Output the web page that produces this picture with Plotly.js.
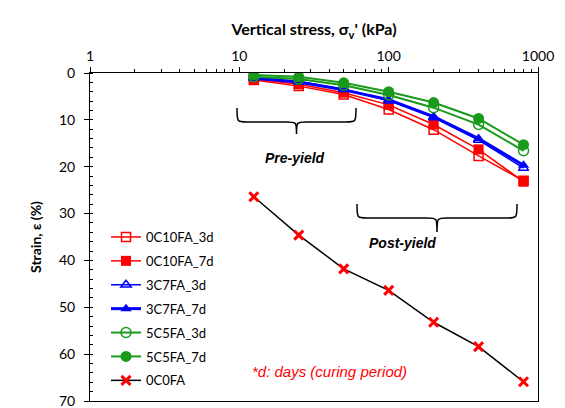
<!DOCTYPE html>
<html><head><meta charset="utf-8">
<script src="https://cdn.plot.ly/plotly-3.0.1.min.js"></script>
<style>body{margin:0;background:#fff}#c{width:565px;height:408px}</style>
</head><body><div id="c"></div>
<script>
// Data
var stress = [12.5, 25, 50, 100, 200, 400, 800];
var s_0C10FA_3d = [1.5, 2.8, 4.6, 7.8, 12.1, 17.7, 23.0];
var s_0C10FA_7d = [1.3, 2.4, 4.2, 6.8, 11.0, 16.3, 23.2];
var s_3C7FA_3d  = [1.0, 1.8, 3.4, 5.9, 9.5, 14.3, 20.3];
var s_3C7FA_7d  = [1.1, 1.9, 3.6, 5.7, 9.3, 14.0, 19.7];
var s_5C5FA_3d  = [0.8, 1.3, 2.6, 4.7, 7.4, 11.0, 16.6];
var s_5C5FA_7d  = [0.4, 0.8, 2.1, 4.0, 6.3, 9.7, 15.3];
var s_0C0FA     = [26.4, 34.6, 41.8, 46.4, 53.2, 58.4, 65.9];
var names = ['0C10FA_3d','0C10FA_7d','3C7FA_3d','3C7FA_7d','5C5FA_3d','5C5FA_7d','0C0FA'];
var yTicks = [0, 10, 20, 30, 40, 50, 60, 70];

var RED='#FF0000', BLUE='#0000FF', GREEN='#1A9A1A';
function tr(y, name, color, lw, sym, msize, mfill, mline, mlcolor){
  return {x: stress, y: y, name: name, type:'scatter', mode:'lines+markers',
    legendgroup: name,
    line:{color:color, width:lw},
    marker:{symbol:sym, size:msize, color:mfill, line:{width:mline, color:mlcolor||color}}};
}
var data = [
  tr(s_0C10FA_3d, names[0], RED, 1.5, 'square-open', 9, RED, 1.5, RED),
  tr(s_0C10FA_7d, names[1], RED, 1.5, 'square', 10, RED, 0, RED),
  tr(s_3C7FA_3d, names[2], BLUE, 1.5, 'triangle-up-open', 9, BLUE, 1.5, BLUE),
  tr(s_3C7FA_7d, names[3], BLUE, 3, 'triangle-up', 10, BLUE, 0, BLUE),
  tr(s_5C5FA_3d, names[4], GREEN, 2, 'circle-open', 10, GREEN, 1.5, GREEN),
  tr(s_5C5FA_7d, names[5], GREEN, 2, 'circle', 11, GREEN, 0, GREEN),
  tr(s_0C0FA, names[6], '#000000', 1.5, 'x-thin-open', 9, RED, 3, RED)
];

var L=90, R=538, T=73, B=401;
function px(x){return (x-L)/(R-L);}
function py(y){return (B-y)/(B-T);}
function brace(x0, x1, yTop, yMid, yTip){
  var xm=(x0+x1)/2, r=10;
  var p = 'M '+px(x0)+','+py(yTop)+
    ' C '+px(x0)+','+py(yMid)+' '+px(x0)+','+py(yMid)+' '+px(x0+r)+','+py(yMid)+
    ' L '+px(xm-r)+','+py(yMid)+
    ' C '+px(xm)+','+py(yMid)+' '+px(xm)+','+py(yMid)+' '+px(xm)+','+py(yTip)+
    ' C '+px(xm)+','+py(yMid)+' '+px(xm)+','+py(yMid)+' '+px(xm+r)+','+py(yMid)+
    ' L '+px(x1-r)+','+py(yMid)+
    ' C '+px(x1)+','+py(yMid)+' '+px(x1)+','+py(yMid)+' '+px(x1)+','+py(yTop);
  return {type:'path', xref:'paper', yref:'paper', path:p, line:{color:'#000', width:1.5}};
}

var FONT = 'Lato, "Open Sans", sans-serif';
var AR = '"Liberation Sans", Arial, sans-serif';
var layout = {
  width:565, height:408,
  margin:{l:L, r:565-R, t:T, b:408-B, autoexpand:false},
  paper_bgcolor:'#fff', plot_bgcolor:'#fff',
  font:{family:FONT, color:'#000', size:14},
  showlegend:true,
  legend:{x:px(106), y:py(222), xanchor:'left', yanchor:'top', bgcolor:'rgba(0,0,0,0)',
    font:{size:13, family:FONT}, traceorder:'grouped', tracegroupgap:4},
  xaxis:{type:'log', side:'top', range:[0,3], showgrid:false, zeroline:false,
    showline:true, linecolor:'#000', linewidth:1, mirror:true,
    ticks:'outside', ticklen:5, tickcolor:'#000', ticklabeloverflow:'allow',
    tickvals:[1,10,100,1000], ticktext:['1','10','100','1000'],
    minor:{ticks:'outside', ticklen:3, tickcolor:'#000', tickvals:[2,3,4,5,6,7,8,9,20,30,40,50,60,70,80,90,200,300,400,500,600,700,800,900]},
    tickfont:{size:14},
    title:{text:'<b>Vertical stress, σ<sub>v</sub>\' (kPa)</b>', font:{size:16}, standoff:7}},
  yaxis:{range:[70,0], showgrid:false, zeroline:false,
    showline:true, linecolor:'#000', linewidth:1, mirror:true, ticklabeloverflow:'allow',
    ticks:'outside', ticklen:5, tickcolor:'#000', tickvals:yTicks, ticktext:yTicks.map(String),
    minor:{ticks:'inside', ticklen:3, tickcolor:'#000', dtick:2},
    tickfont:{size:14}, ticklabelstandoff:6,
    title:{text:'<b>Strain, ε (%)</b>', font:{size:14}, standoff:14}},
  shapes:[brace(237,356,108,122,134), brace(357,517,204,218,232)],
  annotations:[
    {xref:'paper', yref:'paper', x:px(295), y:py(148), text:'<b><i>Pre-yield</i></b>', showarrow:false, font:{size:14, family:AR}},
    {xref:'paper', yref:'paper', x:px(438), y:py(243), text:'<b><i>Post-yield</i></b>', showarrow:false, font:{size:14, family:AR}},
    {xref:'paper', yref:'paper', x:px(329), y:py(382), text:'<i>*d: days (curing period)</i>', showarrow:false, font:{size:15, color:RED, family:AR}}
  ]
};
Plotly.newPlot('c', data, layout, {displayModeBar:false, staticPlot:true});
</script></body></html>
